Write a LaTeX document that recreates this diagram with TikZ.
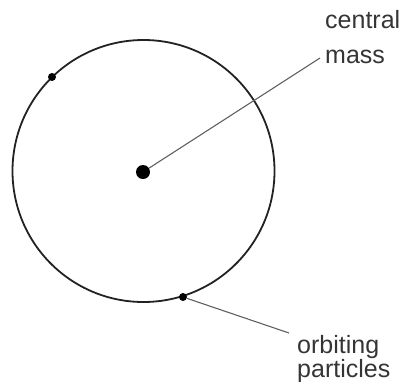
\documentclass[tikz,border=0pt]{standalone}
\usepackage{fontspec}
\setmainfont{Liberation Sans}
\definecolor{ink}{HTML}{222222}
\definecolor{lead}{HTML}{606060}
\definecolor{txt}{HTML}{353535}
\begin{document}
\begin{tikzpicture}[x=1pt,y=-1pt,
  orbit/.style={draw=ink,line width=1.8pt},
  bigdot/.style={circle,fill=black,inner sep=0pt,minimum size=14pt},
  smalldot/.style={circle,fill=black,inner sep=0pt,minimum size=8pt},
  leader/.style={draw=lead,line width=1.1pt},
  lbl/.style={font=\fontsize{25}{28}\selectfont,text=txt,inner sep=0pt,anchor=base west}]
\useasboundingbox (0,0) rectangle (406,381);
\coordinate (c) at (143.5,171);
\draw[orbit] (c) circle[radius=131];
\node[bigdot] (mass) at (143,172) {};
\node[smalldot] (p1) at (52,77) {};
\node[smalldot] (p2) at (183,297) {};
\node[lbl] (t1) at (325,28) {central};
\node[lbl] (t2) at (325,63) {mass};
\node[lbl] (t3) at (297,353) {orbiting};
\node[lbl] (t4) at (297,377) {particles};
\coordinate (e1) at (320,58);
\coordinate (e2) at (289,333);
\draw[leader] (mass) -- (e1);
\draw[leader] (p2) -- (e2);
\end{tikzpicture}
\end{document}
